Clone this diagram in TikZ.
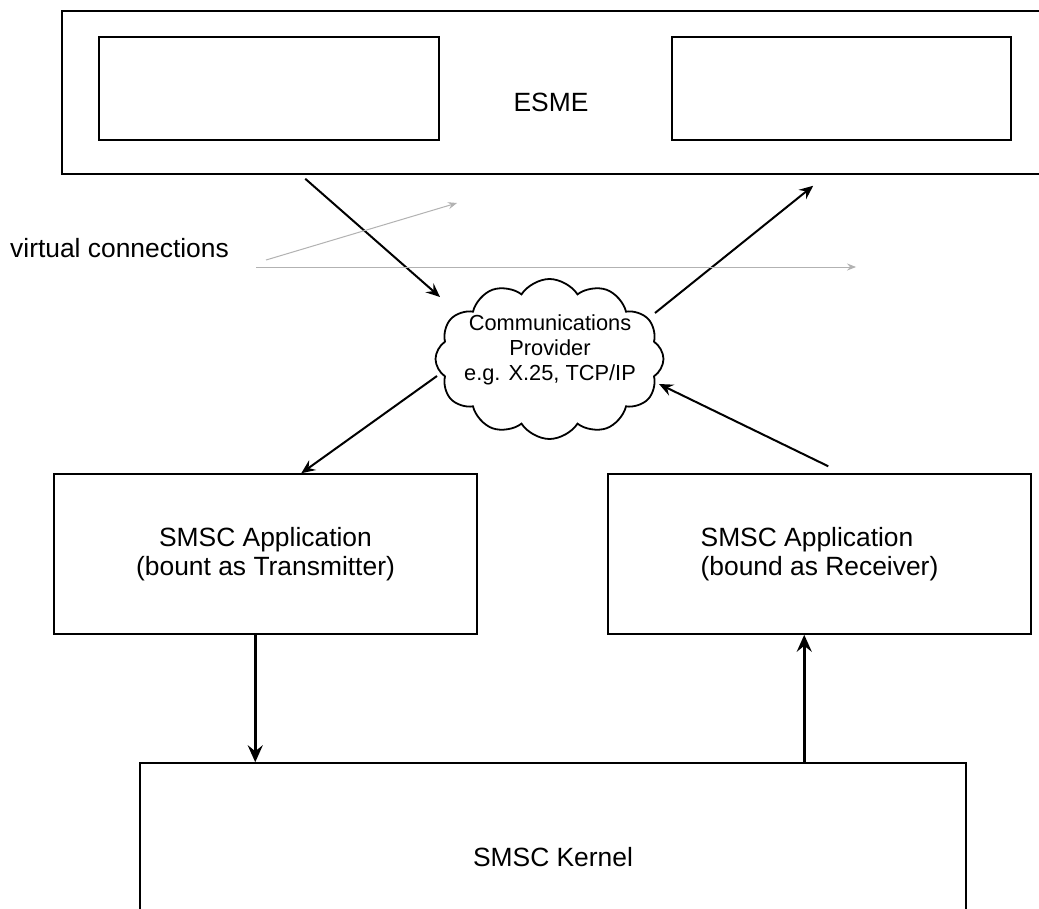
\documentclass[tikz,border=0pt]{standalone}
\usepackage{fontspec}
\setmainfont{Liberation Sans}
\usetikzlibrary{shapes.symbols,arrows.meta,calc}
\begin{document}
\begin{tikzpicture}[x=1pt,y=-1pt,
  box/.style={draw, line width=1.5pt, rectangle, inner sep=0pt},
  txt/.style={font=\fontsize{26.4}{28.5}\selectfont},
  arr/.style={line width=2pt, -{Stealth[length=14pt,width=12pt,inset=5pt]}},
  varr/.style={line width=3pt, -{Stealth[length=17pt,width=15pt,inset=6pt]}},
  garr/.style={line width=1pt, draw=gray!60, -{Stealth[length=9pt,width=7pt,inset=3pt]}}]
\clip (0,0) rectangle (1039,908);
\fill[white] (0,0) rectangle (1039,908);

% ESME
\node[box, minimum width=990pt, minimum height=163pt] (esme) at (557,92.5) {};
\node[txt, inner sep=0pt] (esmelabel) at (551,102) {ESME};
\node[box, minimum width=340pt, minimum height=103pt] (esmeL) at (269,88.5) {};
\node[box, minimum width=339pt, minimum height=103pt] (esmeR) at (841.5,88.5) {};

% cloud
\node[draw, cloud, cloud puffs=12, cloud puff arc=115, aspect=1.42,
      minimum width=228pt, minimum height=160pt, line width=1.8pt, inner sep=0pt] (cloud) at (549.5,359) {};
\node[font=\fontsize{21.8}{25}\selectfont, align=center, inner sep=0pt] (cloudlabel) at (550,350)
  {Communications\\Provider\\e.g. X.25, TCP/IP};

% SMSC applications
\node[box, txt, align=center, minimum width=423pt, minimum height=160pt] (leftapp) at (265.5,554)
  {SMSC Application\\(bount as Transmitter)};
\node[box, txt, align=left, minimum width=423pt, minimum height=160pt] (rightapp) at (819.5,554)
  {SMSC Application\\(bound as Receiver)};

% kernel
\node[box, minimum width=826pt, minimum height=300pt] (kernel) at (553,913) {};
\node[txt, inner sep=0pt] (kernellabel) at (553,857) {SMSC Kernel};

% virtual connections
\node[txt, anchor=base west, inner sep=0pt] (vclabel) at (10,257) {virtual connections};

% connectors
\draw[arr] ($(esme.south west)+(244,4)$) -- ($(cloud.center)+(-109.5,-62)$);
\draw[arr] ($(cloud.center)+(105.5,-46)$) -- ($(esme.south west)+(752,11)$);
\draw[arr] ($(cloud.center)+(-112.5,17)$) -- ($(leftapp.north west)+(248,0)$);
\draw[arr] ($(rightapp.north west)+(221,-7)$) -- ($(cloud.center)+(109.5,25)$);
\draw[varr] ($(leftapp.south west)+(202,0)$) -- ($(kernel.north west)+(116,0)$);
\draw[varr] ($(kernel.north west)+(665,0)$) -- ($(rightapp.south west)+(197,0)$);
\draw[garr] ($(vclabel.base east)+(37,3)$) -- ($(vclabel.base east)+(228,-54)$);
\draw[garr] ($(vclabel.base east)+(27,10)$) -- ($(vclabel.base east)+(627,10)$);
\end{tikzpicture}
\end{document}
